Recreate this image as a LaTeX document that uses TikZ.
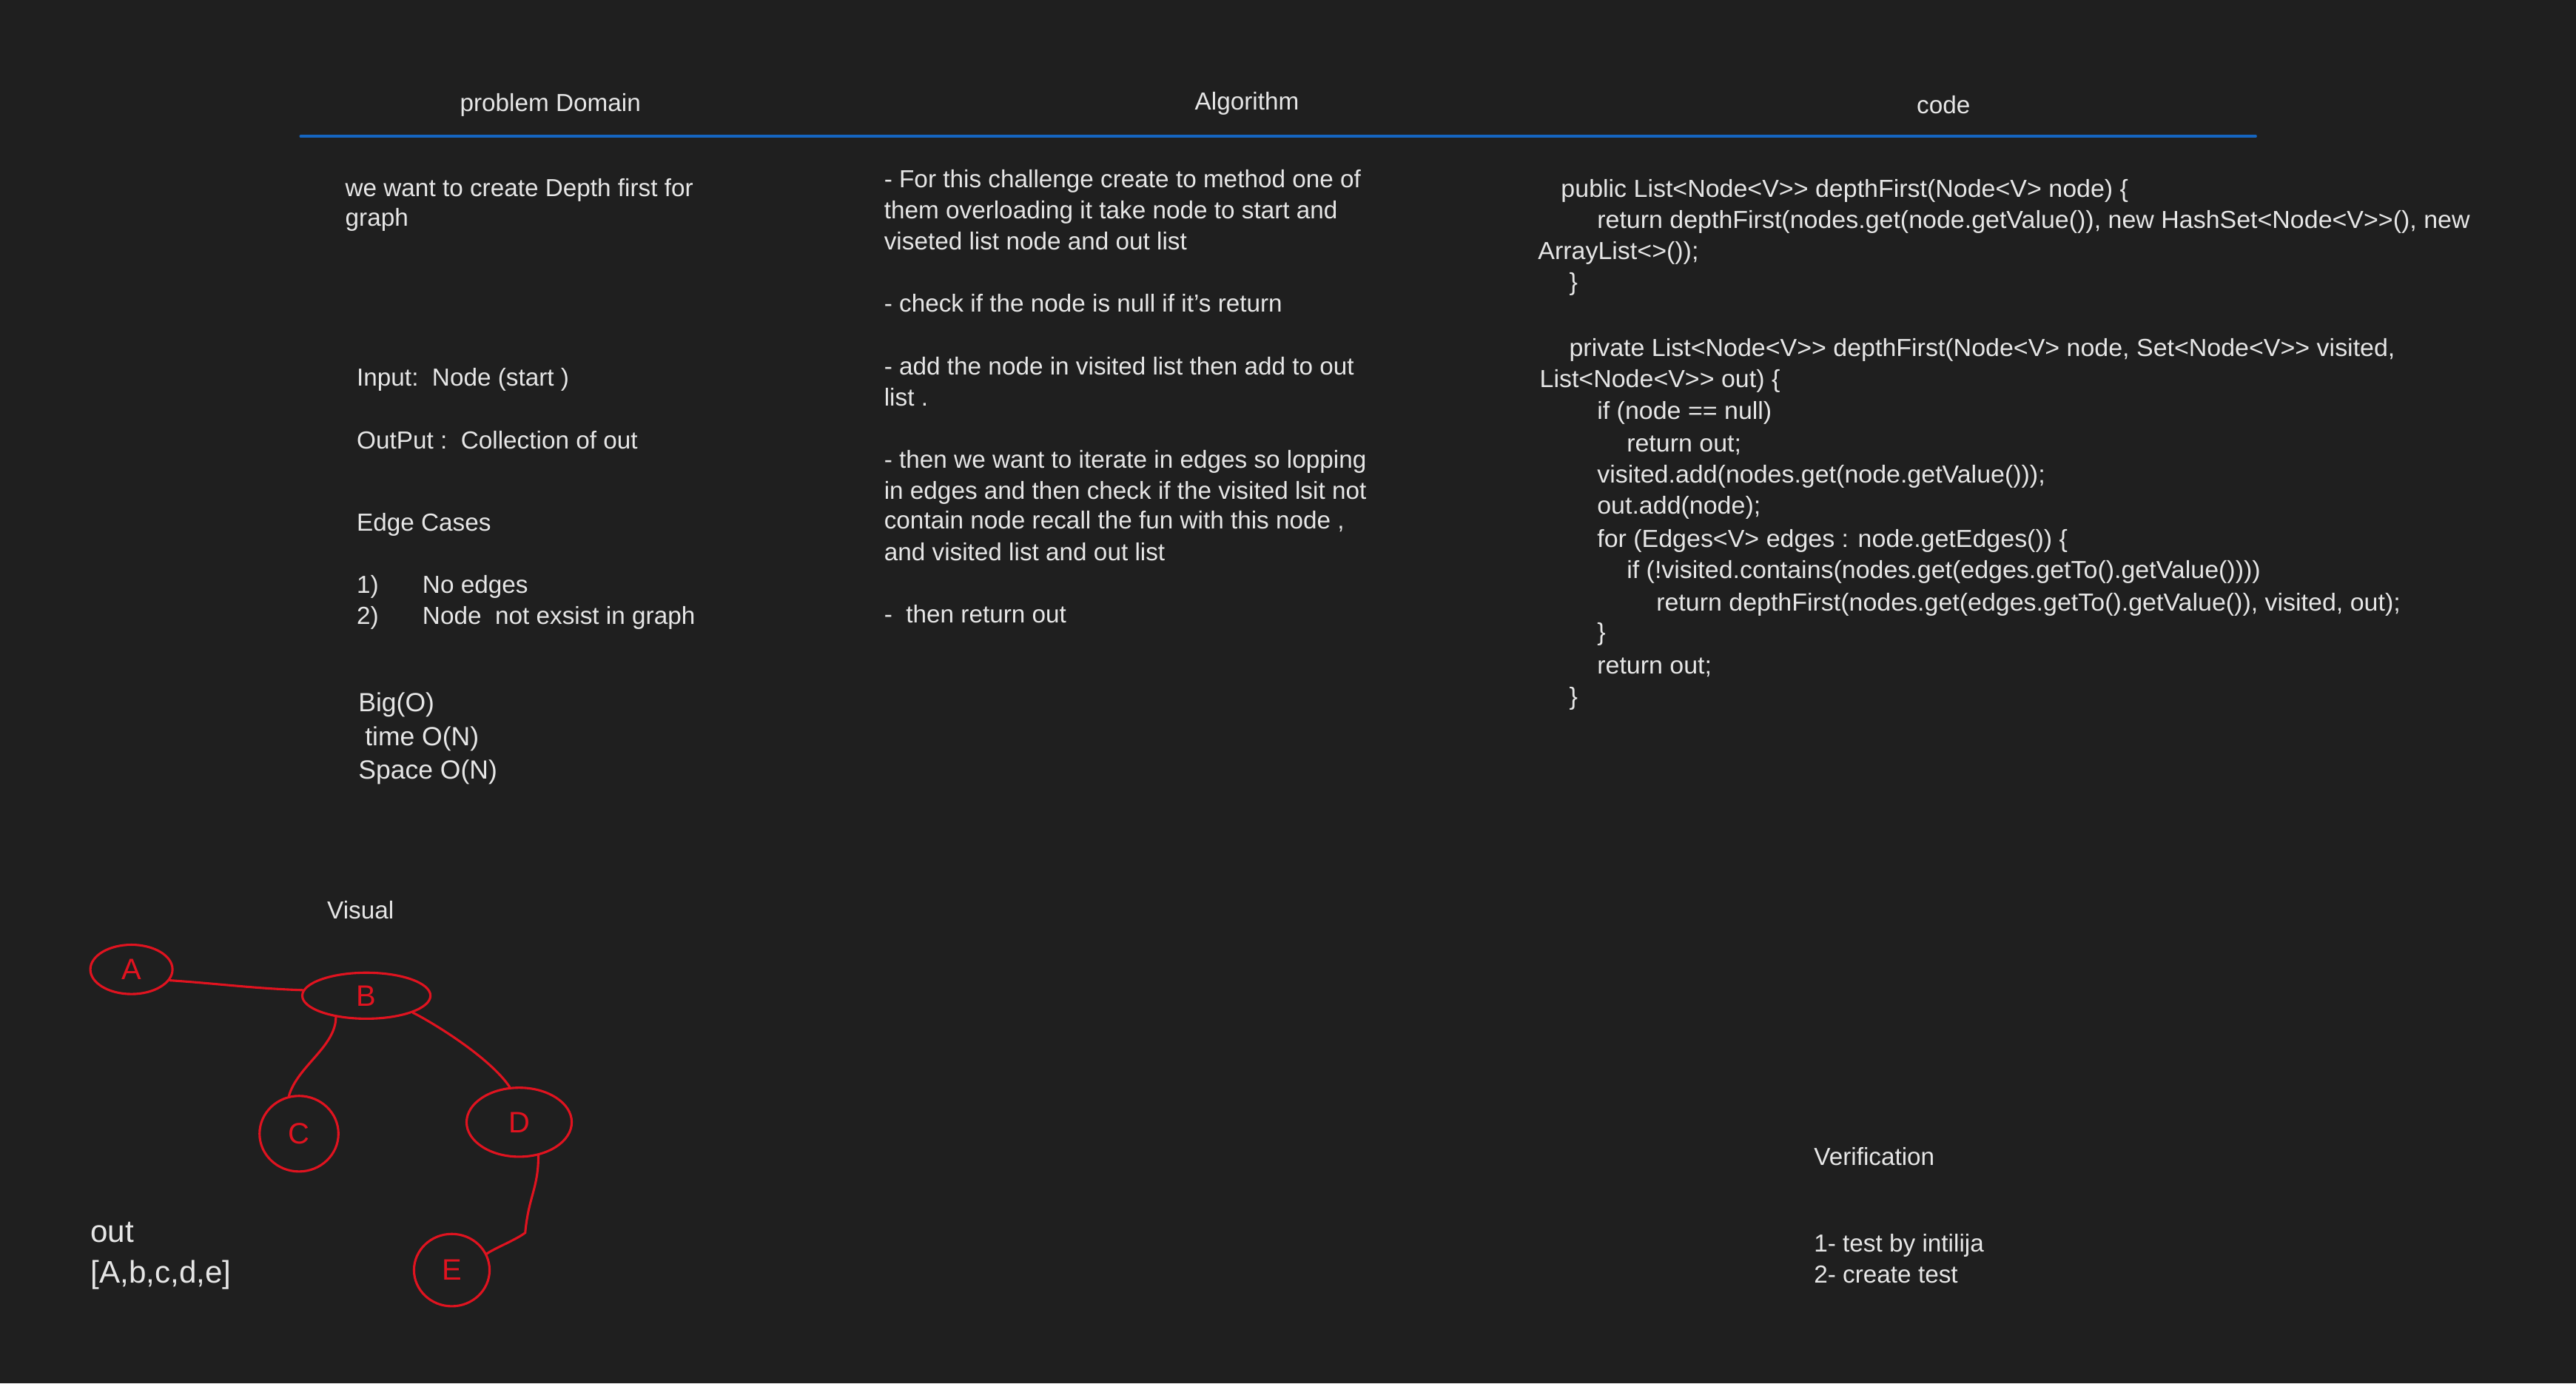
\documentclass[tikz,border=0pt]{standalone}
\usepackage{fontspec}
\setmainfont{Liberation Sans}
\newfontfamily\codefont{Liberation Sans}[FakeStretch=1.02]
\usetikzlibrary{shapes.geometric}
\definecolor{bg}{HTML}{1F1F1F}
\definecolor{fg}{HTML}{E6E6E6}
\definecolor{hdr}{HTML}{1565C0}
\definecolor{rd}{HTML}{E0131F}
\newcommand{\gtgt}{>\kern0pt>}
\begin{document}
\begin{tikzpicture}[x=1pt,y=-1pt,
  txt/.style={anchor=base west, inner sep=0pt, text=fg, font=\fontsize{15}{19}\selectfont},
  codetxt/.style={txt, font=\codefont\fontsize{15}{19}\selectfont},
  head/.style={anchor=base, inner sep=0pt, text=fg, font=\fontsize{15}{19}\selectfont},
  bigtxt/.style={txt, font=\fontsize{16}{20}\selectfont},
  hugetxt/.style={txt, font=\fontsize{19}{24}\selectfont},
  gnode/.style={ellipse, draw=rd, line width=1.4pt, text=rd, inner sep=0pt, font=\fontsize{18}{18}\selectfont},
  gedge/.style={draw=rd, line width=1.4pt, line cap=round},
  rule/.style={draw=hdr, line width=1.6pt, line cap=round}]
\fill[bg] (0,0) rectangle (1568,842);

% header
\node[head] (hpd) at (335,67.6) {problem Domain};
\node[head] (halg) at (759,67) {Algorithm};
\node[head] (hcode) at (1183,69) {code};
\coordinate (hl) at (183,83);
\coordinate (hr) at (1373,83);
\draw[rule] (hl) -- (hr);

% problem domain
\node[txt] (pd1) at (210,119.4) {we want to create Depth first for};
\node[txt] (pd2) at (210,137.4) {graph};
\node[txt] (pin) at (217,235) {Input:\ \ Node (start )};
\node[txt] (pout) at (217,273) {OutPut :\ \ Collection of out};
\node[txt] (pec) at (217,323) {Edge Cases};
\node[txt] (pn1) at (217,361) {1)};
\node[txt] (pe1) at (257,361) {No edges};
\node[txt] (pn2) at (217,380) {2)};
\node[txt] (pe2) at (257,380) {Node\ \ not exsist in graph};
\node[bigtxt] (bo1) at (218,433) {Big(O)};
\node[bigtxt] (bo2) at (222,454) {time O(N)};
\node[bigtxt] (bo3) at (218,474) {Space O(N)};

% algorithm
\node[txt] (a1) at (538,114) {- For this challenge create to method one of};
\node[txt] (a2) at (538,133) {them overloading it take node to start and};
\node[txt] (a3) at (538,152) {viseted list node and out list};
\node[txt] (a4) at (538,190) {- check if the node is null if it's return};
\node[txt] (a5) at (538,228) {- add the node in visited list then add to out};
\node[txt] (a6) at (538,247) {list .};
\node[txt] (a7) at (538,285) {- then we want to iterate in edges so lopping};
\node[txt] (a8) at (538,304) {in edges and then check if the visited lsit not};
\node[txt] (a9) at (538,322) {contain node recall the fun with this node ,};
\node[txt] (a10) at (538,341) {and visited list and out list};
\node[txt] (a11) at (538,379) {-\ \ then return out};

% code
\node[codetxt] (c1) at (950,120) {public List<Node<V\gtgt\ depthFirst(Node<V> node) \{};
\node[codetxt] (c2) at (972,139) {return depthFirst(nodes.get(node.getValue()), new HashSet<Node<V\gtgt(), new};
\node[codetxt] (c3) at (936,158) {ArrayList<>());};
\node[codetxt] (c4) at (955,177) {\}};
\node[codetxt] (c5) at (955,217) {private List<Node<V\gtgt\ depthFirst(Node<V> node, Set<Node<V\gtgt\ visited,};
\node[codetxt] (c6) at (937,236) {List<Node<V\gtgt\ out) \{};
\node[codetxt] (c7) at (972,255) {if (node == null)};
\node[codetxt] (c8) at (990,275) {return out;};
\node[codetxt] (c9) at (972,294) {visited.add(nodes.get(node.getValue()));};
\node[codetxt] (c10) at (972,313) {out.add(node);};
\node[codetxt] (c11) at (972,333) {for (Edges<V> edges : node.getEdges()) \{};
\node[codetxt] (c12) at (990,352) {if (!visited.contains(nodes.get(edges.getTo().getValue())))};
\node[codetxt] (c13) at (1008,372) {return depthFirst(nodes.get(edges.getTo().getValue()), visited, out);};
\node[codetxt] (c14) at (972,390) {\}};
\node[codetxt] (c15) at (972,410) {return out;};
\node[codetxt] (c16) at (955,429) {\}};

% visual
\node[txt] (vis) at (199,559) {Visual};
\node[gnode, minimum width=50pt, minimum height=30pt] (A) at (80,590) {A};
\node[gnode, minimum width=78pt, minimum height=28pt] (B) at (223,606) {B};
\node[gnode, minimum width=48pt, minimum height=46pt] (C) at (182,690) {C};
\node[gnode, minimum width=64pt, minimum height=42pt] (D) at (316,683) {D};
\node[gnode, minimum width=46pt, minimum height=44pt] (E) at (275,773) {E};
\draw[gedge] (A.344) .. controls +(30,2) and +(-30,-1) .. (B.175);
\draw[gedge] (B.215) .. controls +(0,18) and +(5,-18) .. (C.105);
\draw[gedge] (B.340) .. controls +(12,6) and +(-12,-18) .. (D.105);
\draw[gedge] (D.300) .. controls +(0,20) and +(2,-22) .. ++(-8,47) coordinate (kink)
  .. controls +(-5,4) and +(4,-3) .. (E.25);
\node[hugetxt] (outl) at (55,756) {out};
\node[hugetxt] (outv) at (55,781) {[A,b,c,d,e]};

% verification
\node[txt] (ver) at (1104,709) {Verification};
\node[txt] (v1) at (1104,762) {1- test by intilija};
\node[txt] (v2) at (1104,781) {2- create test};
\end{tikzpicture}
\end{document}
